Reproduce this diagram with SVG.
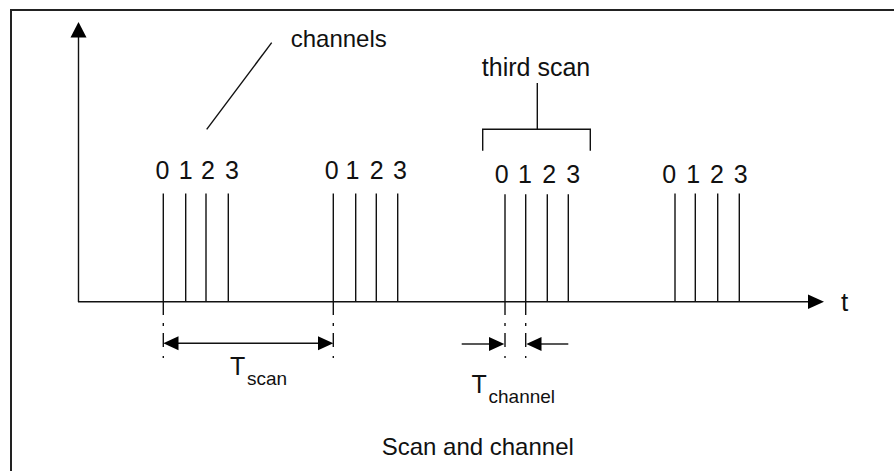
<svg xmlns="http://www.w3.org/2000/svg" width="894" height="471" viewBox="0 0 894 471">
<style>
.ln{stroke:#111;stroke-width:1.4;fill:none}
.dd{stroke:#111;stroke-width:1.4;fill:none;stroke-dasharray:13 8 3 7 14 9 2 100}
.frame{stroke:#222;stroke-width:2;fill:none}
text{font-family:"Liberation Sans",Arial,sans-serif;fill:#111}
.dg{font-size:25px;text-anchor:middle}
.ah{fill:#000;stroke:none}
</style>
<rect width="894" height="471" fill="#fff"/>
<path class="frame" d="M11,471 V10 H894"/>
<g id="axes">
<path class="ln" d="M78.5,302 V36"/>
<polygon class="ah" points="78.5,22 70.5,37.5 86.5,37.5"/>
<path class="ln" d="M78,301.7 H809"/>
<polygon class="ah" points="824,301.7 808,294.5 808,309"/>
<text x="841" y="310.7" font-size="26px">t</text>
</g>
<g id="channels-label">
<path class="ln" d="M271.7,42.7 L206.7,129.3"/>
<text x="290.7" y="47.3" font-size="24px">channels</text>
</g>
<g id="scan1">
<path class="ln" d="M163.3,193.5 V302 M185.7,193.5 V302 M206,193.5 V302 M228.3,193.5 V302"/>
<text class="dg" x="162.5" y="179.3">0</text>
<text class="dg" x="185.8" y="179.3">1</text>
<text class="dg" x="208" y="179.3">2</text>
<text class="dg" x="232" y="179.3">3</text>
</g>
<g id="scan2">
<path class="ln" d="M333.3,193.5 V302 M355.7,193.5 V302 M376.3,193.5 V302 M397.7,193.5 V302"/>
<text class="dg" x="331.7" y="179.3">0</text>
<text class="dg" x="352.5" y="179.3">1</text>
<text class="dg" x="376.7" y="179.3">2</text>
<text class="dg" x="400" y="179.3">3</text>
</g>
<g id="scan3">
<path class="ln" d="M505,194.3 V302 M525.7,194.3 V302 M547.3,194.3 V302 M568.3,194.3 V302"/>
<text class="dg" x="501.7" y="182.7">0</text>
<text class="dg" x="525" y="182.7">1</text>
<text class="dg" x="549.3" y="182.7">2</text>
<text class="dg" x="573.3" y="182.7">3</text>
</g>
<g id="scan4">
<path class="ln" d="M675,193.5 V302 M695.3,193.5 V302 M717.7,193.5 V302 M739.3,193.5 V302"/>
<text class="dg" x="669.3" y="183.3">0</text>
<text class="dg" x="693.3" y="183.3">1</text>
<text class="dg" x="717" y="183.3">2</text>
<text class="dg" x="740.8" y="183.3">3</text>
</g>
<g id="third-scan">
<path class="ln" d="M482.7,150.7 V129.3 H590.3 V150.7 M537.3,129.3 V83"/>
<text x="536" y="76" font-size="25px" text-anchor="middle">third scan</text>
</g>
<g id="connectors">
<path class="dd" d="M163.3,302 V358 M333.3,302 V358 M505,302 V358 M525.7,302 V358"/>
<path class="ln" d="M178,343.3 H319"/>
<polygon class="ah" points="163.3,343.3 178.5,336.3 178.5,350.3"/>
<polygon class="ah" points="333.3,343.3 318,336.3 318,350.3"/>
<path class="ln" d="M461.7,344 H490"/>
<polygon class="ah" points="504.3,344 489,337 489,351"/>
<path class="ln" d="M568.3,344 H541"/>
<polygon class="ah" points="526.3,344 541.5,337 541.5,351"/>
</g>
<g id="t-scan">
<text x="230" y="375" font-size="25px">T</text>
<text x="247" y="385" font-size="19px">scan</text>
</g>
<g id="t-channel">
<text x="471.5" y="393.3" font-size="25px">T</text>
<text x="488.5" y="403" font-size="19px">channel</text>
</g>
<g id="caption">
<text x="381.7" y="455" font-size="24px">Scan and channel</text>
</g>
</svg>
